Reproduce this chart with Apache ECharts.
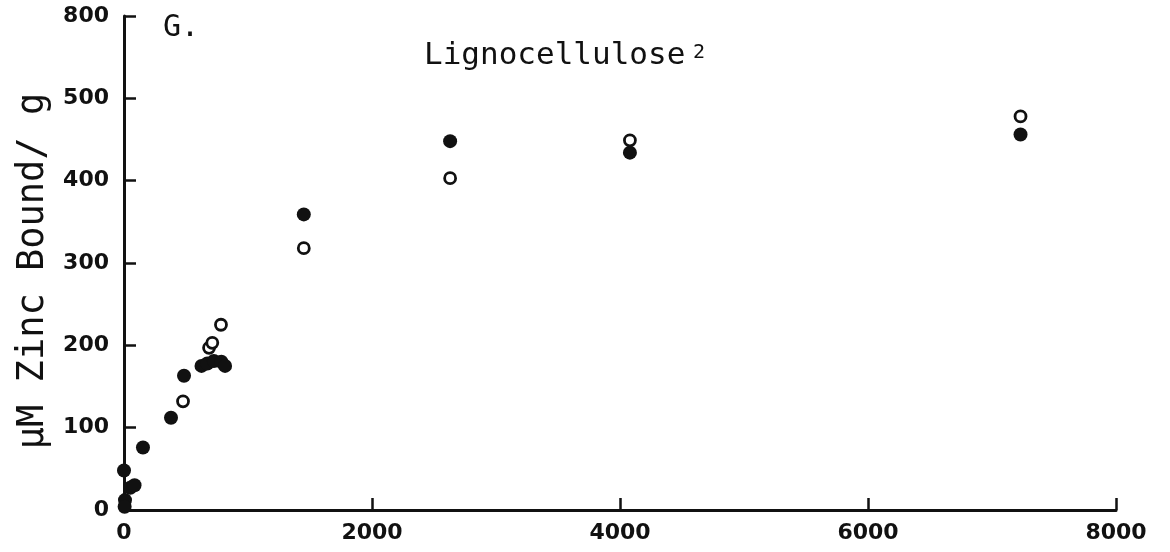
<!DOCTYPE html>
<html>
<head>
<meta charset="utf-8">
<script src="https://cdn.jsdelivr.net/npm/echarts@6/dist/echarts.min.js"></script>
<style>
  html, body { margin: 0; padding: 0; background: #fff; }
  #chart { width: 1170px; height: 552px; }
</style>
</head>
<body>
<div id="chart"></div>
<script>
// x: concentration, y: µM Zinc bound per g
const filledPoints = [
  [0, 48], [8, 12], [5, 4], [50, 27], [85, 30], [153, 76], [379, 112], [484, 163],
  [625, 175], [672, 178], [725, 181], [785, 180], [815, 175],
  [1450, 359], [2630, 448], [4080, 434], [7230, 456]
];
const openPoints = [
  [476, 132], [686, 197], [712, 203], [782, 225],
  [1450, 318], [2630, 403], [4080, 449], [7230, 478]
];
const xTickLabels = ['0', '2000', '4000', '6000', '8000'];
// the top tick of the broken y axis is labelled 800
const yTickLabels = ['0', '100', '200', '300', '400', '500', '800'];
const panelLabel = 'G.';
const titleText = 'Lignocellulose';
const titleSup = '2';
const yTitle = 'µM Zinc Bound/ g';

const chart = echarts.init(document.getElementById('chart'));
const axisColor = '#111111';
const labelFont = { fontFamily: 'DejaVu Sans', fontWeight: 'bold', fontSize: 22, color: '#111111' };

chart.setOption({
  backgroundColor: '#ffffff',
  animation: false,
  grid: { left: 124, right: 54, top: 16, bottom: 42 },
  xAxis: {
    type: 'value', min: 0, max: 8000, interval: 2000,
    axisLine: { show: true, onZero: false, lineStyle: { color: axisColor, width: 3 } },
    axisTick: { show: true, inside: true, length: 12, lineStyle: { color: axisColor, width: 2.5 } },
    splitLine: { show: false },
    axisLabel: Object.assign({ margin: 12, formatter: (v) => xTickLabels[Math.round(v / 2000)] }, labelFont)
  },
  yAxis: {
    type: 'value', min: 0, max: 600, interval: 100,
    axisLine: { show: true, lineStyle: { color: axisColor, width: 3 } },
    axisTick: { show: true, inside: true, length: 12, lineStyle: { color: axisColor, width: 2.5 } },
    splitLine: { show: false },
    axisLabel: Object.assign({ margin: 15, formatter: (v) => yTickLabels[Math.round(v / 100)] }, labelFont)
  },
  graphic: [
    { type: 'text', left: 163, top: 13, style: { text: panelLabel, font: '30px "DejaVu Sans Mono"', fill: '#111111' } },
    { type: 'text', left: 424, top: 40, style: { text: titleText, font: '31px "DejaVu Sans Mono"', fill: '#111111' } },
    { type: 'text', left: 693, top: 43, style: { text: titleSup, font: '20px "DejaVu Sans Mono"', fill: '#111111' } },
    { type: 'text', x: 33, y: 271, rotation: Math.PI / 2,
      style: { text: yTitle, font: '37px "DejaVu Sans Mono"', fill: '#111111', textAlign: 'center', textVerticalAlign: 'middle' } }
  ],
  series: [
    {
      name: 'filled', type: 'scatter', data: filledPoints, symbol: 'circle', symbolSize: 14,
      itemStyle: { color: '#111111', opacity: 1 }, z: 3
    },
    {
      name: 'open', type: 'scatter', data: openPoints, symbol: 'circle', symbolSize: 11,
      itemStyle: { color: '#ffffff', borderColor: '#111111', borderWidth: 2.8, opacity: 1 }, z: 4
    }
  ]
});
</script>
</body>
</html>
